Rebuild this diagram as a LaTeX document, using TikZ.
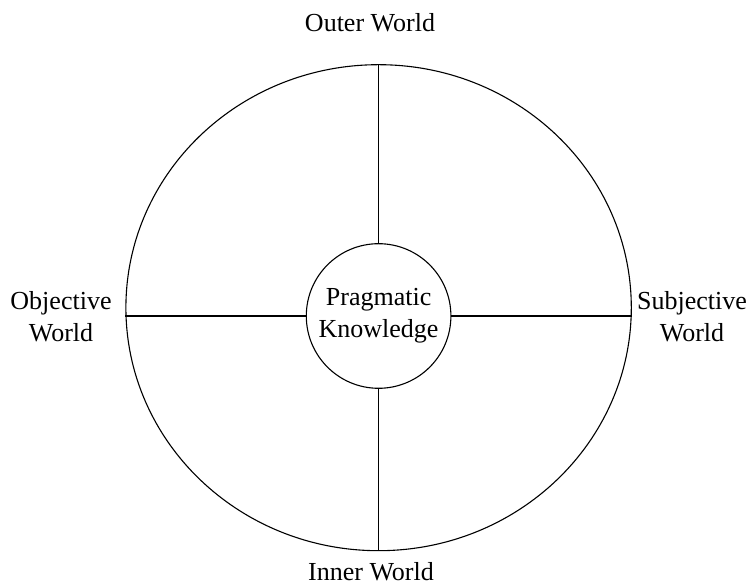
\documentclass[tikz,border=0pt]{standalone}
\usepackage{fontspec}
\setmainfont{Liberation Serif}
\usetikzlibrary{shapes.geometric}
\begin{document}
\begin{tikzpicture}[x=1pt,y=1pt,
  line/.style={draw=black,line width=1.1pt},
  txt/.style={font=\fontsize{26pt}{32pt}\selectfont,align=center,inner sep=0pt},
  world/.style={line,ellipse,minimum width=505.4pt,minimum height=486pt,inner sep=0pt},
  core/.style={line,circle,minimum size=144.6pt,inner sep=0pt,
               font=\fontsize{26pt}{32pt}\selectfont,align=center}]
  \useasboundingbox (0,0) rectangle (749,585);
  % outer ring and central core
  \node[world] (ow) at (378.6,277.3) {};
  \node[core] (pk) at (378.6,269) {Pragmatic\\Knowledge};
  % spokes from the core to the ring
  \draw[line] (pk.north) -- (pk.north |- ow.north);
  \draw[line] (pk.south) -- (pk.south |- ow.south);
  \draw[line] (pk.west) -- (pk.west -| ow.west);
  \draw[line] (pk.east) -- (pk.east -| ow.east);
  % quadrant labels
  \node[txt] (outer) at (370,562.2) {Outer World};
  \node[txt] (inner) at (371,13.2) {Inner World};
  \node[txt] (objw) at (61,268.5) {Objective\\World};
  \node[txt] (subw) at (692,268.5) {Subjective\\World};
\end{tikzpicture}
\end{document}
